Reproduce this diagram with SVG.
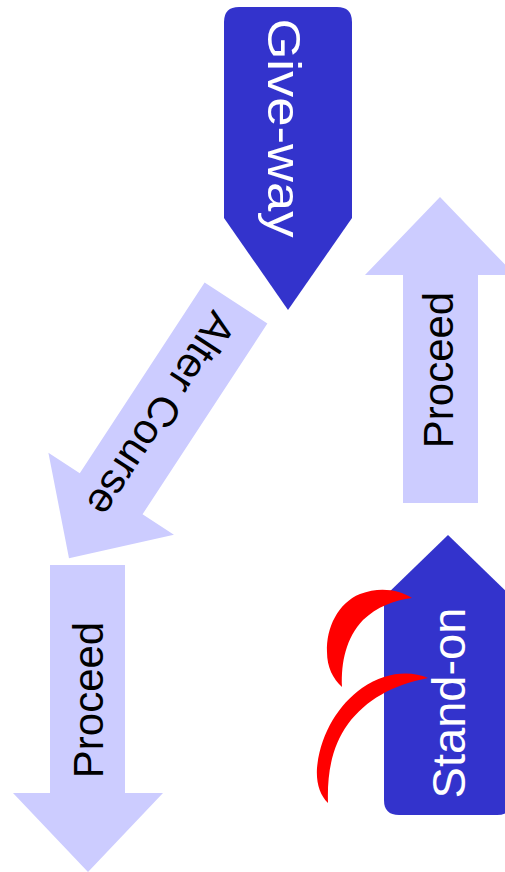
<svg xmlns="http://www.w3.org/2000/svg" width="505" height="872" viewBox="0 0 505 872">
<style>
.light{fill:#CCCCFF}
.dark{fill:#3333CC}
.red{fill:#FF0000}
.lbl{font-family:"Liberation Sans",Arial,sans-serif;text-anchor:middle}
.blk{fill:#000000;font-size:42px}
.wht{fill:#FFFFFF;font-size:47px}
</style>
<rect width="505" height="872" fill="#FFFFFF"/>
<g id="giveway">
<path class="dark" d="M239,7 H337 Q352,7 352,22 V218 L288,310 L224,218 V22 Q224,7 239,7 Z"/>
<text class="lbl wht" transform="translate(268,128) rotate(90)" textLength="219" lengthAdjust="spacingAndGlyphs">Give-way</text>
</g>
<g id="connectors">
<g id="alter-course" transform="translate(236,303) rotate(33.2)">
<path class="light" d="M-37.5,0 H37.5 V228 H75 L0,305 L-75,228 H-37.5 Z"/>
<text class="lbl blk" transform="translate(-16,134) rotate(90)">Alter Course</text>
</g>
<g id="proceed-right">
<path class="light" d="M403,503 V275 H365 L440,197 L515,275 H478 V503 Z"/>
<text class="lbl blk" transform="translate(453,370) rotate(-90)">Proceed</text>
</g>
<g id="proceed-left">
<path class="light" d="M50,565 H125 V793 H163 L88,872 L13,793 H50 Z"/>
<text class="lbl blk" transform="translate(103,700) rotate(-90)">Proceed</text>
</g>
</g>
<g id="standon">
<path class="dark" d="M448,535 L512,597 V800 Q512,815 497,815 H399 Q384,815 384,800 V597 Z"/>
<text class="lbl wht" transform="translate(465,703) rotate(-90)">Stand-on</text>
</g>
<g id="signals">
<path class="red" d="M412,598 C400,590 380,586 360,594 C338,603 326,628 327,652 C327,667 333,679 342,687 C341,662 346,638 363,620 C377,607 394,600 412,598 Z"/>
<path class="red" d="M428,678 C410,670 385,672 362,688 C338,705 320,735 317,768 C316,783 320,795 328,803 C327,773 332,746 348,724 C366,700 392,685 428,678 Z"/>
</g>
</svg>
